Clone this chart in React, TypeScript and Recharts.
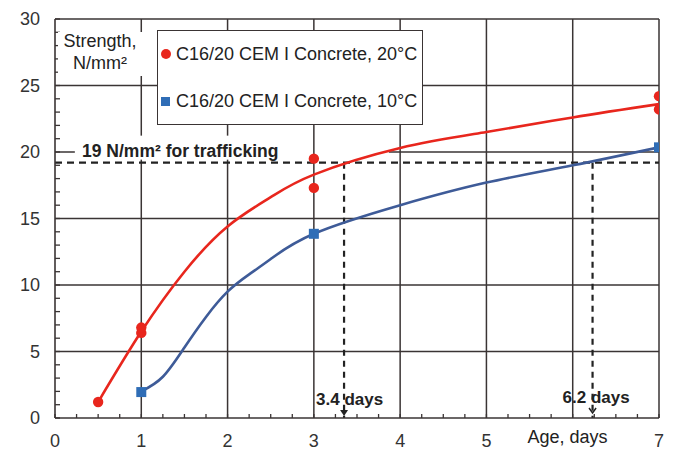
import React from 'react';
import {
  ComposedChart,
  Line,
  Scatter,
  XAxis,
  YAxis,
  ReferenceLine,
  ReferenceDot,
  Legend,
} from 'recharts';

// ---- data ----
const red20PointsX = [0.5, 1, 1, 3, 3, 7, 7];
const red20PointsY = [1.2, 6.4, 6.8, 19.5, 17.3, 24.2, 23.2];
const blue10PointsX = [1, 3, 7];
const blue10PointsY = [1.95, 13.85, 20.35];

const red20CurveX = [0.5, 1, 1.5, 2, 2.5, 3, 4, 5, 6, 7];
const red20CurveY = [1.2, 6.5, 11.0, 14.4, 16.6, 18.3, 20.3, 21.5, 22.6, 23.6];
const blue10CurveX = [1, 1.25, 1.5, 1.75, 2, 2.25, 2.5, 3, 4, 5, 6, 7];
const blue10CurveY = [2.0, 3.1, 5.3, 7.6, 9.5, 10.8, 11.95, 13.85, 16.0, 17.7, 19.0, 20.35];

const trafficStrength = 19.2;
const days20 = 3.35;
const days10 = 6.23;

const xTicks = [0, 0.25, 0.5, 0.75, 1, 1.25, 1.5, 1.75, 2, 2.25, 2.5, 2.75, 3, 3.25, 3.5, 3.75, 4, 4.25, 4.5, 4.75, 5, 5.25, 5.5, 5.75, 6, 6.25, 6.5, 6.75, 7];
const xTickLabels = ['0', '1', '2', '3', '4', '5', '', '7'];
const yTicks = [0, 1, 2, 3, 4, 5, 6, 7, 8, 9, 10, 11, 12, 13, 14, 15, 16, 17, 18, 19, 20, 21, 22, 23, 24, 25, 26, 27, 28, 29, 30];
const xGrid = [1, 2, 3, 4, 5, 6, 7];
const yGrid = [5, 10, 15, 25, 30];

const seriesLabels = ['C16/20 CEM I Concrete, 20°C', 'C16/20 CEM I Concrete, 10°C'];
const xAxisTitle = 'Age, days';

const RED = '#e8261d';
const BLUE_LINE = '#3e5b98';
const BLUE_MARK = '#2f6db6';
const GRID = '#3a3434';
const FONT = '"Liberation Sans", Arial, Helvetica, sans-serif';

const zip = (xs: number[], ys: number[]) => xs.map((x, i) => ({ x, y: ys[i] }));
const red20Points = zip(red20PointsX, red20PointsY);
const blue10Points = zip(blue10PointsX, blue10PointsY);
const red20Curve = zip(red20CurveX, red20CurveY);
const blue10Curve = zip(blue10CurveX, blue10CurveY);

const RedDot = (p: any) => <circle cx={p.cx} cy={p.cy} r={5.2} fill={RED} />;
const BlueSquare = (p: any) => (
  <rect x={p.cx - 5} y={p.cy - 5} width={10} height={10} fill={BLUE_MARK} />
);

const StrengthLabel = (p: any) => (
  <g>
    <rect x={p.cx + 3} y={p.cy + 13} width={90} height={44} fill="#fff" />
    <text x={p.cx + 45} y={p.cy + 28} textAnchor="middle" fontSize={18} fontFamily={FONT} fill="#222">
      Strength,
    </text>
    <text x={p.cx + 45} y={p.cy + 50} textAnchor="middle" fontSize={18} fontFamily={FONT} fill="#222">
      N/mm²
    </text>
  </g>
);

const TrafficLabel = (p: any) => (
  <g>
    <rect x={p.cx + 20} y={p.cy - 27} width={222} height={24} fill="#fff" />
    <text x={p.cx + 27} y={p.cy - 6} fontSize={17.5} fontWeight="bold" fontFamily={FONT} fill="#222">
      19 N/mm² for trafficking
    </text>
  </g>
);

const Days20Label = (p: any) => (
  <g>
    <text x={p.cx - 28} y={p.cy - 13} fontSize={17} fontWeight="bold" fontFamily={FONT} fill="#222">
      3.4 days
    </text>
    <polygon points={`${p.cx - 4},${p.cy - 8} ${p.cx + 4},${p.cy - 8} ${p.cx},${p.cy - 2}`} fill="#222" />
  </g>
);

const Days10Label = (p: any) => (
  <g>
    <text x={p.cx - 30} y={p.cy - 15.5} fontSize={17} fontWeight="bold" fontFamily={FONT} fill="#222">
      6.2 days
    </text>
    <polyline
      points={`${p.cx - 3.5},${p.cy - 10} ${p.cx},${p.cy - 5} ${p.cx + 3.5},${p.cy - 10}`}
      fill="none"
      stroke="#222"
      strokeWidth={1.5}
    />
  </g>
);

const AgeLabel = (p: any) => (
  <text x={p.cx} y={p.cy + 25} textAnchor="middle" fontSize={18} fontFamily={FONT} fill="#222">
    {xAxisTitle}
  </text>
);

const LegendBox = () => (
  <div
    style={{
      position: 'relative',
      width: 266,
      height: 95,
      boxSizing: 'border-box',
      border: `1.5px solid ${GRID}`,
      background: '#fff',
      fontFamily: FONT,
      fontSize: 18,
      color: '#222',
    }}
  >
    {seriesLabels.map((label, i) => (
      <div
        key={label}
        style={{
          position: 'absolute',
          left: 3,
          top: i === 0 ? 12 : 59,
          height: 22,
          display: 'flex',
          alignItems: 'center',
          whiteSpace: 'nowrap',
        }}
      >
        {i === 0 ? (
          <span style={{ width: 10, height: 10, borderRadius: 5, background: RED, display: 'inline-block' }} />
        ) : (
          <span style={{ width: 9, height: 9, background: BLUE_MARK, display: 'inline-block' }} />
        )}
        <span style={{ marginLeft: i === 0 ? 5 : 6 }}>{label}</span>
      </div>
    ))}
  </div>
);

export default function App() {
  const tickStyle = { fontSize: 18, fontFamily: FONT, fill: '#333' };
  return (
    <div style={{ position: 'absolute', left: 0, top: 0, width: 673, height: 450, background: '#fff' }}>
      <ComposedChart width={673} height={450} margin={{ top: 19, right: 14, left: 10, bottom: 0 }}>
        <XAxis
          type="number"
          dataKey="x"
          domain={[0, 7]}
          ticks={xTicks}
          interval={0}
          allowDataOverflow
          tickFormatter={(v: number) => (Number.isInteger(v) ? xTickLabels[v] : '')}
          tickSize={-4}
          tickMargin={20}
          height={32}
          tick={tickStyle}
          axisLine={{ stroke: GRID, strokeWidth: 1.6 }}
          tickLine={{ stroke: GRID, strokeWidth: 1.3 }}
        />
        <YAxis
          type="number"
          dataKey="y"
          domain={[0, 30]}
          ticks={yTicks}
          interval={0}
          allowDataOverflow
          tickFormatter={(v: number) => (v % 5 === 0 ? String(v) : '')}
          tickSize={-5}
          tickMargin={20}
          width={45}
          tick={tickStyle}
          axisLine={{ stroke: GRID, strokeWidth: 1.6 }}
          tickLine={{ stroke: GRID, strokeWidth: 1.3 }}
        />
        {xGrid.map((v) => (
          <ReferenceLine key={`gx${v}`} x={v} stroke={GRID} strokeWidth={1.5} />
        ))}
        {yGrid.map((v) => (
          <ReferenceLine key={`gy${v}`} y={v} stroke={GRID} strokeWidth={1.5} />
        ))}
        <ReferenceLine segment={[{ x: 0, y: 20 }, { x: 0.23, y: 20 }]} stroke={GRID} strokeWidth={1.5} />
        <ReferenceLine segment={[{ x: 3.87, y: 20 }, { x: 7, y: 20 }]} stroke={GRID} strokeWidth={1.5} />

        <ReferenceDot x={0} y={30} r={0} shape={StrengthLabel} />
        <ReferenceDot x={0} y={trafficStrength} r={0} shape={TrafficLabel} />

        <ReferenceLine
          segment={[{ x: 0, y: trafficStrength }, { x: 7, y: trafficStrength }]}
          stroke="#222"
          strokeWidth={2.2}
          strokeDasharray="7 5"
        />
        <ReferenceLine
          segment={[{ x: days20, y: trafficStrength }, { x: days20, y: 0 }]}
          stroke="#222"
          strokeWidth={2.2}
          strokeDasharray="6 5"
        />
        <ReferenceLine
          segment={[{ x: days10, y: trafficStrength }, { x: days10, y: 0 }]}
          stroke="#222"
          strokeWidth={2.2}
          strokeDasharray="6 5"
        />
        <ReferenceDot x={days20} y={0} r={0} shape={Days20Label} />
        <ReferenceDot x={days10} y={0} r={0} shape={Days10Label} />
        <ReferenceDot x={5.94} y={0} r={0} shape={AgeLabel} />

        <Line
          data={red20Curve}
          dataKey="y"
          type="natural"
          stroke={RED}
          strokeWidth={2.6}
          dot={false}
          activeDot={false}
          isAnimationActive={false}
          legendType="none"
        />
        <Line
          data={blue10Curve}
          dataKey="y"
          type="natural"
          stroke={BLUE_LINE}
          strokeWidth={2.6}
          dot={false}
          activeDot={false}
          isAnimationActive={false}
          legendType="none"
        />
        <Scatter data={red20Points} dataKey="y" shape={RedDot} isAnimationActive={false} name={seriesLabels[0]} />
        <Scatter data={blue10Points} dataKey="y" shape={BlueSquare} isAnimationActive={false} name={seriesLabels[1]} />

        <Legend
          layout="horizontal"
          verticalAlign="middle"
          align="center"
          content={() => <LegendBox />}
          wrapperStyle={{ left: 157, top: 30, width: 266, height: 95 }}
        />
      </ComposedChart>
    </div>
  );
}
